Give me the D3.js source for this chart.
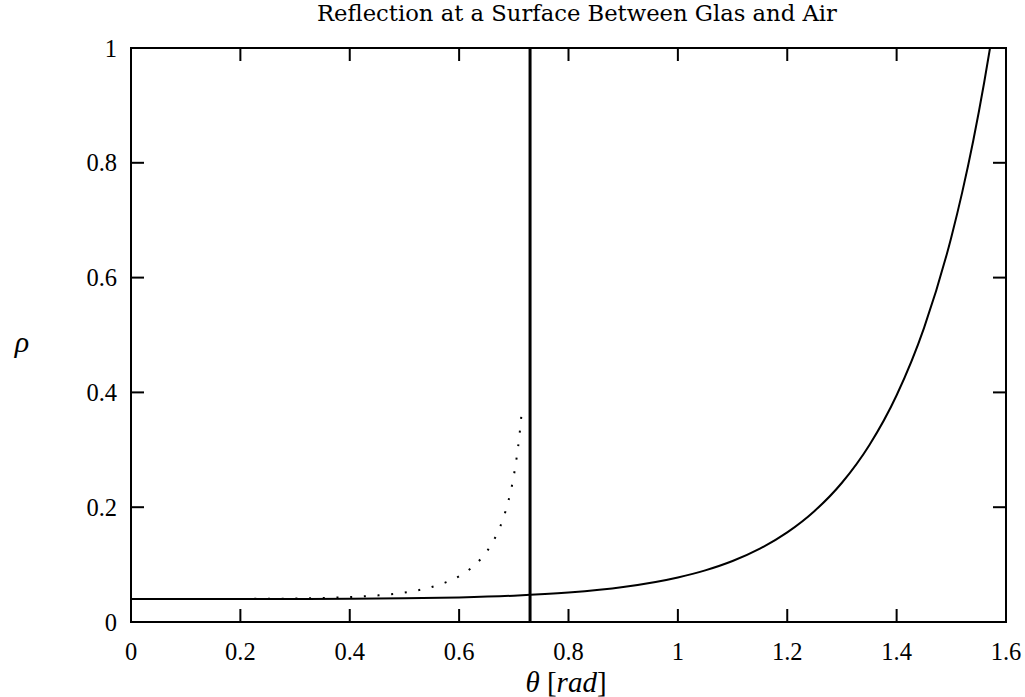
<!DOCTYPE html>
<html>
<head>
<meta charset="utf-8">
<script src="https://cdn.jsdelivr.net/npm/d3@7"></script>
<style>
  body { margin: 0; background: #fff; }
  svg text { font-family: "Liberation Serif", "DejaVu Serif", serif; fill: #000; }
</style>
</head>
<body>
<div id="chart"></div>
<script>
// reflection from the air side (solid line)
var thetaOut = [0, 0.1, 0.2, 0.3, 0.4, 0.5, 0.6, 0.7, 0.8, 0.9, 1.0, 1.05, 1.1, 1.15, 1.2,
    1.25, 1.3, 1.35, 1.4, 1.45, 1.5, 1.52, 1.54, 1.56, 1.5708];
var rhoOut = [0.040, 0.040, 0.040, 0.0402, 0.0405, 0.0412, 0.0428, 0.0458, 0.0512, 0.0608,
    0.0775, 0.0900, 0.1063, 0.1278, 0.1561, 0.1934, 0.2426, 0.3080, 0.3951, 0.5121,
    0.6704, 0.7489, 0.8380, 0.9394, 1.0];

// reflection from the glass side (dotted line)
var thetaIn = [0, 0.1, 0.2, 0.3, 0.35, 0.4, 0.45, 0.5, 0.55, 0.6, 0.62, 0.64, 0.66, 0.68,
    0.69, 0.70, 0.705, 0.71, 0.714];
var rhoIn = [0.040, 0.040, 0.0402, 0.0409, 0.0418, 0.0434, 0.0463, 0.0514, 0.0610, 0.0798,
    0.0924, 0.1103, 0.1367, 0.1788, 0.2105, 0.2549, 0.2850, 0.3225, 0.3613];

var thetaCrit = 0.7297;

var xTicks = [0, 0.2, 0.4, 0.6, 0.8, 1, 1.2, 1.4, 1.6];
var yTicks = [0, 0.2, 0.4, 0.6, 0.8, 1];

var width = 1025, height = 697;
var margin = {top: 48, right: 19, bottom: 75, left: 131};

var svg = d3.select("#chart").append("svg")
    .attr("width", width)
    .attr("height", height);

var x = d3.scaleLinear().domain([0, 1.6]).range([margin.left, width - margin.right]);
var y = d3.scaleLinear().domain([0, 1]).range([height - margin.bottom, margin.top]);

// ticks, all four sides pointing in
var tk = 13;
var g = svg.append("g").attr("stroke", "#000").attr("stroke-width", 2);
xTicks.slice(1, -1).forEach(function(d) {
    g.append("line").attr("x1", x(d)).attr("x2", x(d)).attr("y1", y(0)).attr("y2", y(0) - tk);
    g.append("line").attr("x1", x(d)).attr("x2", x(d)).attr("y1", y(1)).attr("y2", y(1) + tk);
});
yTicks.slice(1, -1).forEach(function(d) {
    g.append("line").attr("x1", x(0)).attr("x2", x(0) + tk).attr("y1", y(d)).attr("y2", y(d));
    g.append("line").attr("x1", x(1.6)).attr("x2", x(1.6) - tk).attr("y1", y(d)).attr("y2", y(d));
});

svg.selectAll(".xl").data(xTicks).enter().append("text")
    .attr("x", function(d) { return x(d); })
    .attr("y", y(0) + 38)
    .attr("text-anchor", "middle")
    .attr("font-size", 24.5)
    .text(function(d) { return String(d); });

svg.selectAll(".yl").data(yTicks).enter().append("text")
    .attr("x", x(0) - 14)
    .attr("y", function(d) { return y(d) + 8.5; })
    .attr("text-anchor", "end")
    .attr("font-size", 24.5)
    .text(function(d) { return String(d); });

// curves
var line = d3.line()
    .x(function(d) { return x(d[0]); })
    .y(function(d) { return y(d[1]); })
    .curve(d3.curveMonotoneX);

svg.append("path")
    .datum(d3.zip(thetaIn, rhoIn))
    .attr("fill", "none")
    .attr("stroke", "#000")
    .attr("stroke-width", 2)
    .attr("stroke-dasharray", "2,11.7")
    .attr("d", line);

svg.append("path")
    .datum(d3.zip(thetaOut, rhoOut))
    .attr("fill", "none")
    .attr("stroke", "#000")
    .attr("stroke-width", 2)
    .attr("d", line);

svg.append("line")
    .attr("x1", x(thetaCrit)).attr("x2", x(thetaCrit))
    .attr("y1", y(0)).attr("y2", y(1))
    .attr("stroke", "#000")
    .attr("stroke-width", 3);

// frame
svg.append("rect")
    .attr("x", x(0)).attr("y", y(1))
    .attr("width", x(1.6) - x(0)).attr("height", y(0) - y(1))
    .attr("fill", "none")
    .attr("stroke", "#000")
    .attr("stroke-width", 2);

svg.append("text")
    .attr("x", 577).attr("y", 21)
    .attr("text-anchor", "middle")
    .attr("font-size", 22.7)
    .style("font-family", "'DejaVu Serif', serif")
    .text("Reflection at a Surface Between Glas and Air");

svg.append("text")
    .attr("x", 22).attr("y", 352)
    .attr("text-anchor", "middle")
    .attr("font-size", 30)
    .attr("font-style", "italic")
    .text("ρ");

var xl = svg.append("text")
    .attr("x", 566).attr("y", 692)
    .attr("text-anchor", "middle")
    .attr("font-size", 29);
xl.append("tspan").attr("font-style", "italic").text("θ");
xl.append("tspan").text(" [");
xl.append("tspan").attr("font-style", "italic").text("rad");
xl.append("tspan").text("]");
</script>
</body>
</html>
